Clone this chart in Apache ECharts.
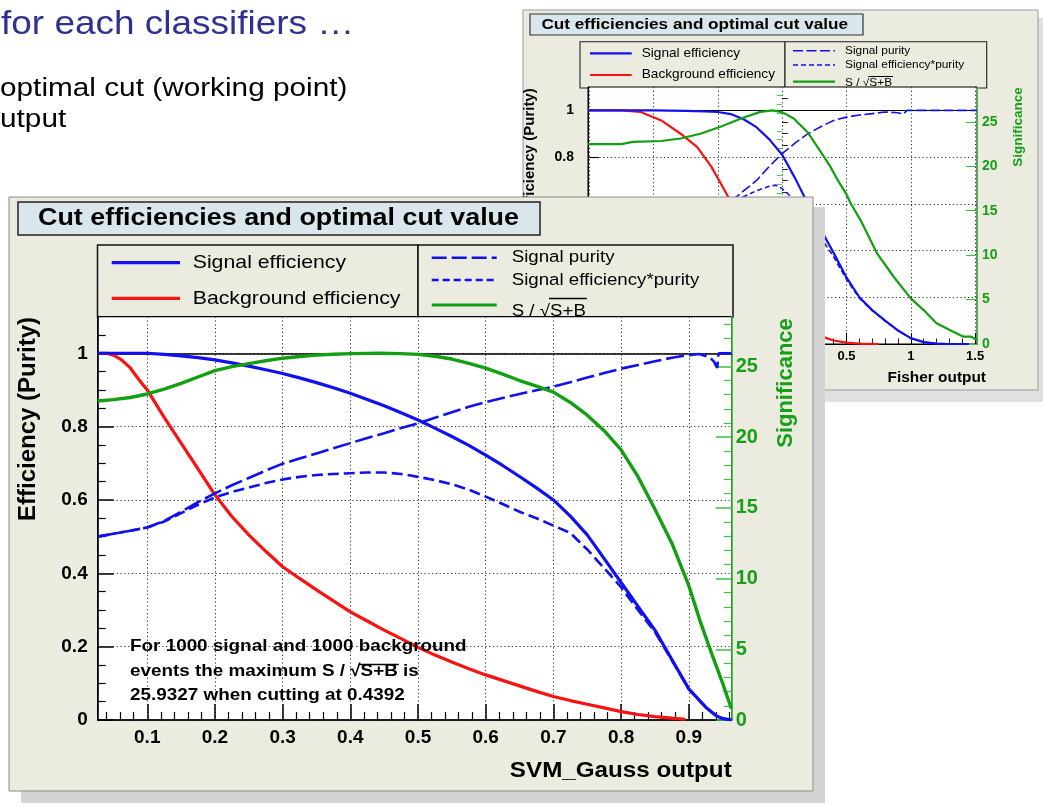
<!DOCTYPE html>
<html><head><meta charset="utf-8">
<script src="https://cdn.jsdelivr.net/npm/echarts@6.0.0/dist/echarts.min.js"></script>
<style>html,body{margin:0;padding:0;background:#fff;}#c{width:1043px;height:807px;}</style>
</head><body><div id="c"></div>
<script>
const FONT = '"Liberation Sans", Arial, Helvetica, sans-serif';
const COL = {blue:'#1010f0', red:'#f81212', green:'#12a012', greenAxis:'#3cc23c', greenText:'#16a016',
  panel:'#ecebe0', titleBox:'#d9e7ec', slide:'#2e3192'};

// ---------------- SVM_Gauss (front chart) ----------------
const svmXRange = [0.0268, 0.9634];
const svmXMajor = [0.1,0.2,0.3,0.4,0.5,0.6,0.7,0.8,0.9];
const svmXMinor = [0.04,0.06,0.08,0.12,0.14,0.16,0.18,0.22,0.24,0.26,0.28,0.32,0.34,0.36,0.38,0.42,0.44,0.46,0.48,
  0.52,0.54,0.56,0.58,0.62,0.64,0.66,0.68,0.72,0.74,0.76,0.78,0.82,0.84,0.86,0.88,0.92,0.94,0.96];
const effMajor = [0,0.2,0.4,0.6,0.8,1];
const effMinor = [0.05,0.1,0.15,0.25,0.3,0.35,0.45,0.5,0.55,0.65,0.7,0.75,0.85,0.9,0.95,1.05];
const sigMajor = [0,5,10,15,20,25];
const sigMinor = [1,2,3,4,6,7,8,9,11,12,13,14,16,17,18,19,21,22,23,24,26,27,28];
const svmSigMax = 28.52;

const svmSigEff = [[0.027,1.0],[0.05,1.0],[0.075,1.0],[0.1,1.0],[0.125,0.997],[0.15,0.993],[0.175,0.988],[0.2,0.982],
  [0.225,0.974],[0.25,0.965],[0.275,0.955],[0.3,0.945],[0.325,0.933],[0.35,0.92],[0.375,0.906],[0.4,0.891],[0.425,0.874],
  [0.45,0.857],[0.475,0.838],[0.5,0.818],[0.525,0.796],[0.55,0.773],[0.575,0.749],[0.6,0.722],[0.625,0.694],[0.65,0.664],
  [0.675,0.633],[0.7,0.6],[0.725,0.556],[0.75,0.505],[0.775,0.44],[0.8,0.375],[0.825,0.31],[0.85,0.245],[0.875,0.165],
  [0.9,0.085],[0.925,0.035],[0.94,0.012],[0.95,0.004],[0.963,0.0]];
const svmBkgEff = [[0.027,1.0],[0.04,1.0],[0.05,0.995],[0.062,0.982],[0.075,0.96],[0.087,0.93],[0.1,0.9],[0.125,0.825],
  [0.15,0.755],[0.175,0.685],[0.2,0.614],[0.225,0.555],[0.25,0.505],[0.275,0.46],[0.3,0.418],[0.325,0.386],[0.35,0.355],
  [0.375,0.325],[0.4,0.295],[0.425,0.27],[0.45,0.245],[0.475,0.222],[0.5,0.198],[0.525,0.177],[0.55,0.158],[0.575,0.14],
  [0.6,0.123],[0.625,0.108],[0.65,0.093],[0.675,0.078],[0.7,0.064],[0.725,0.053],[0.75,0.043],[0.775,0.033],[0.8,0.023],
  [0.825,0.015],[0.85,0.009],[0.875,0.005],[0.895,0.002]];
const svmPurity = [[0.027,0.5],[0.05,0.508],[0.075,0.516],[0.1,0.525],[0.125,0.543],[0.15,0.568],[0.175,0.594],[0.2,0.618],
  [0.225,0.64],[0.25,0.66],[0.275,0.68],[0.3,0.699],[0.325,0.713],[0.35,0.727],[0.375,0.741],[0.4,0.755],[0.425,0.769],
  [0.45,0.782],[0.475,0.796],[0.5,0.809],[0.525,0.824],[0.55,0.839],[0.575,0.854],[0.6,0.867],[0.625,0.878],[0.65,0.889],
  [0.675,0.899],[0.7,0.909],[0.725,0.921],[0.75,0.934],[0.775,0.946],[0.8,0.958],[0.825,0.968],[0.85,0.978],[0.875,0.988],
  [0.9,0.995],[0.915,0.998],[0.93,0.99],[0.937,0.978],[0.942,0.96],[0.944,1.0],[0.963,1.0]];
const svmEffPurity = [[0.027,0.5],[0.05,0.508],[0.075,0.516],[0.1,0.525],[0.125,0.541],[0.15,0.564],[0.175,0.587],[0.2,0.607],
  [0.225,0.622],[0.25,0.634],[0.275,0.646],[0.3,0.656],[0.325,0.663],[0.35,0.668],[0.375,0.671],[0.4,0.673],[0.425,0.675],
  [0.45,0.675],[0.475,0.671],[0.5,0.663],[0.525,0.654],[0.55,0.643],[0.575,0.628],[0.6,0.609],[0.625,0.589],[0.65,0.568],
  [0.675,0.55],[0.7,0.53],[0.725,0.51],[0.75,0.465],[0.775,0.414],[0.8,0.362],[0.825,0.3],[0.85,0.24],[0.875,0.163],
  [0.9,0.084],[0.925,0.035],[0.94,0.012],[0.95,0.004],[0.963,0.0]];
const svmSignif = [[0.027,22.55],[0.05,22.65],[0.075,22.8],[0.1,23.05],[0.125,23.4],[0.15,23.8],[0.175,24.25],[0.2,24.7],
  [0.225,24.98],[0.25,25.2],[0.275,25.4],[0.3,25.58],[0.325,25.7],[0.35,25.8],[0.375,25.86],[0.4,25.9],[0.425,25.92],
  [0.44,25.93],[0.475,25.9],[0.5,25.85],[0.525,25.72],[0.55,25.52],[0.575,25.22],[0.6,24.88],[0.625,24.45],[0.65,24.0],
  [0.675,23.6],[0.7,23.18],[0.725,22.45],[0.75,21.55],[0.775,20.45],[0.8,19.1],[0.825,17.2],[0.85,14.9],[0.875,12.5],
  [0.9,9.5],[0.916,7.1],[0.93,5.2],[0.94,3.9],[0.95,2.6],[0.963,0.8]];

// ---------------- Fisher (back chart) ----------------
const fisherXRange = [-1.51, 1.515];
const fisherXMajor = [-1.5,-1,-0.5,0,0.5,1,1.5];
const fisherXMinor = [-1.4,-1.3,-1.2,-1.1,-0.9,-0.8,-0.7,-0.6,-0.4,-0.3,-0.2,-0.1,0.1,0.2,0.3,0.4,0.6,0.7,0.8,0.9,1.1,1.2,1.3,1.4];
const fisherSigMax = 28.93;

const fisherSigEff = [[-1.51,1.0],[-1.0,1.0],[-0.75,0.998],[-0.6,0.996],[-0.5,0.993],[-0.4,0.984],[-0.3,0.962],[-0.2,0.928],
  [-0.1,0.876],[0.0,0.81],[0.1,0.71],[0.2,0.6],[0.3,0.49],[0.4,0.39],[0.5,0.285],[0.6,0.2],[0.7,0.145],[0.8,0.1],
  [0.9,0.058],[1.0,0.025],[1.1,0.008],[1.2,0.002],[1.3,0.0],[1.45,0.0]];
const fisherBkgEff = [[-1.51,1.0],[-1.25,1.0],[-1.1,0.993],[-0.94,0.957],[-0.79,0.9],[-0.66,0.843],[-0.55,0.758],[-0.45,0.66],
  [-0.4,0.61],[-0.3,0.505],[-0.2,0.4],[-0.1,0.3],[0.0,0.21],[0.1,0.135],[0.2,0.078],[0.3,0.036],[0.35,0.024],[0.4,0.015],
  [0.5,0.006],[0.6,0.002],[0.75,0.0]];
const fisherPurity = [[-1.51,0.5],[-1.25,0.5],[-1.0,0.505],[-0.8,0.525],[-0.6,0.555],[-0.5,0.58],[-0.4,0.61],[-0.3,0.655],
  [-0.2,0.7],[-0.1,0.76],[0.0,0.815],[0.1,0.86],[0.2,0.9],[0.3,0.93],[0.4,0.957],[0.5,0.971],[0.6,0.98],[0.7,0.986],
  [0.8,0.993],[0.9,0.99],[0.944,0.984],[0.97,1.0],[1.515,1.0]];
const fisherEffPurity = [[-1.51,0.5],[-1.25,0.5],[-1.0,0.505],[-0.8,0.524],[-0.6,0.553],[-0.5,0.576],[-0.4,0.6],[-0.3,0.63],
  [-0.2,0.656],[-0.1,0.675],[-0.05,0.68],[0.0,0.665],[0.05,0.64],[0.1,0.612],[0.2,0.54],[0.3,0.455],[0.4,0.373],[0.5,0.277],
  [0.6,0.196],[0.7,0.143],[0.8,0.099],[0.9,0.057],[1.0,0.025],[1.1,0.008],[1.2,0.002],[1.3,0.0],[1.45,0.0]];
const fisherSignif = [[-1.51,22.5],[-1.25,22.5],[-1.16,22.75],[-0.94,22.85],[-0.79,23.13],[-0.63,23.7],[-0.48,24.45],
  [-0.32,25.38],[-0.17,26.13],[-0.076,26.3],[0.0,26.1],[0.09,25.38],[0.2,23.8],[0.3,21.63],[0.376,19.94],[0.43,18.5],
  [0.5,16.85],[0.53,15.9],[0.609,13.95],[0.738,10.2],[0.867,7.57],[1.0,5.14],[1.1,3.82],[1.2,2.33],[1.33,1.38],
  [1.41,0.82],[1.47,0.82],[1.515,0.45]];

// ---------------- texts ----------------
const slideTitle = 'for each classifiers \u2026';
const slideLines = ['optimal cut (working point)', 'utput'];
const plotTitle = 'Cut efficiencies and optimal cut value';
const legendLeft = ['Signal efficiency', 'Background efficiency'];
const legendRight = ['Signal purity', 'Signal efficiency*purity', 'S / \u221AS+B'];
const effTitle = 'Efficiency (Purity)';
const sigTitle = 'Significance';
const svmXTitle = 'SVM_Gauss output';
const fisherXTitle = 'Fisher output';
const noteLines = ['For 1000 signal and 1000 background', 'events the maximum S / \u221AS+B is', '25.9327 when cutting at 0.4392'];

// ---------------- helpers ----------------
const mctx = document.createElement('canvas').getContext('2d');
function tw(str, fs, bold) { mctx.font = (bold ? 'bold ' : '') + fs + 'px ' + FONT; return mctx.measureText(str).width; }

function buildAxes(g, xr, sMax, st, z) {
  const base = {gridIndex: g, type: 'value', z: z, silent: true};
  const dot = [1.2, 2.6];
  const xa = [
    Object.assign({}, base, {min: xr[0], max: xr[1], position: 'bottom', splitNumber: st.xSplit,
      axisLine: {show: true, onZero: false, lineStyle: {color: '#000', width: st.aw}},
      axisTick: {show: true, inside: true, length: st.tMaj, customValues: st.xMaj, lineStyle: {color: '#000', width: st.aw}},
      axisLabel: {show: true, customValues: st.xMaj, margin: st.xM, color: '#000', fontSize: st.xFs, fontWeight: 'bold', fontFamily: FONT},
      splitLine: {show: true, lineStyle: {color: '#333', width: 1, type: dot}}}),
    Object.assign({}, base, {min: xr[0], max: xr[1], position: 'bottom',
      axisLine: {show: false}, axisTick: {show: true, inside: true, length: st.tMin, customValues: st.xMin, lineStyle: {color: '#000', width: st.aw * 0.8}},
      axisLabel: {show: false}, splitLine: {show: false}})
  ];
  const ya = [
    Object.assign({}, base, {min: 0, max: 1.1, position: 'left', splitNumber: 6,
      axisLine: {show: true, onZero: false, lineStyle: {color: '#000', width: st.aw}},
      axisTick: {show: true, inside: true, length: st.tMaj, customValues: effMajor, lineStyle: {color: '#000', width: st.aw}},
      axisLabel: {show: true, customValues: effMajor, margin: st.yM, color: '#000', fontSize: st.yFs, fontWeight: 'bold', fontFamily: FONT},
      splitLine: {show: true, lineStyle: {color: '#333', width: 1, type: dot}}}),
    Object.assign({}, base, {min: 0, max: 1.1, position: 'left',
      axisLine: {show: false}, axisTick: {show: true, inside: true, length: st.tMin, customValues: effMinor, lineStyle: {color: '#000', width: st.aw * 0.8}},
      axisLabel: {show: false}, splitLine: {show: false}}),
    Object.assign({}, base, {min: 0, max: sMax, position: 'right', splitNumber: 6,
      axisLine: {show: true, onZero: false, lineStyle: {color: COL.greenAxis, width: st.aw}},
      axisTick: {show: true, inside: true, length: st.tMaj, customValues: sigMajor, lineStyle: {color: COL.greenAxis, width: st.aw}},
      axisLabel: {show: true, customValues: sigMajor, margin: st.sM, color: COL.greenText, fontSize: st.sFs, fontWeight: 'bold', fontFamily: FONT},
      splitLine: {show: false}}),
    Object.assign({}, base, {min: 0, max: sMax, position: 'right',
      axisLine: {show: false}, axisTick: {show: true, inside: true, length: st.tMin, customValues: sigMinor, lineStyle: {color: COL.greenAxis, width: st.aw * 0.8}},
      axisLabel: {show: false}, splitLine: {show: false}})
  ];
  return {xa, ya};
}

const series = [];
function addLine(name, data, xi, yi, color, width, dash, z, extra) {
  series.push(Object.assign({type: 'line', name, data, xAxisIndex: xi, yAxisIndex: yi, symbol: 'none', showSymbol: false,
    lineStyle: {color, width, type: dash || 'solid'}, itemStyle: {color}, z, silent: true, animation: false, clip: true}, extra || {}));
}
function oneLine(z, w) {
  return {markLine: {silent: true, symbol: ['none', 'none'], z: z, label: {show: false}, animation: false,
    lineStyle: {color: '#000', width: w, type: 'solid'}, emphasis: {disabled: true}, data: [{yAxis: 1}]}};
}

const G = [];
function rect(x, y, w, h, fill, stroke, lw, z) {
  G.push({type: 'rect', silent: true, z, shape: {x, y, width: w, height: h}, style: {fill, stroke: stroke || null, lineWidth: lw || 0}});
}
function seg(x1, y1, x2, y2, color, lw, dash, z) {
  G.push({type: 'line', silent: true, z, shape: {x1, y1, x2, y2}, style: {stroke: color, lineWidth: lw, lineDash: dash || null}});
}
function text(str, x, y, fs, o) {
  o = o || {};
  G.push({type: 'text', silent: true, z: o.z, x, y, rotation: o.rot || 0, scaleX: o.sx || 1,
    style: {text: str, x: 0, y: 0, fill: o.color || '#000', fontSize: fs, fontWeight: o.bold ? 'bold' : 'normal', fontFamily: FONT,
      textAlign: o.align || 'left', textVerticalAlign: 'middle', align: o.align || 'left', verticalAlign: 'middle'}});
}
// overline above the part after the root sign
function rootBar(prefix, upto, x0, yLine, fs, bold, sx, color, lw, z) {
  const a = x0 + tw(prefix, fs, bold) * sx;
  const b = x0 + tw(upto, fs, bold) * sx;
  seg(a - 1, yLine, b + 1, yLine, color, lw, null, z);
}

// ================= back chart (Fisher) =================
const SX = 1.12;
rect(531, 18, 512, 384, '#e0e0e0', null, 0, 0);
rect(523, 10, 515, 380, COL.panel, '#999', 1, 0.5);
rect(530, 14, 333, 21, COL.titleBox, '#333', 1.2, 1);
text(plotTitle, 541.5, 24.5, 15.3, {bold: true, sx: SX, z: 1.5});
rect(580, 41.7, 205, 46.3, COL.panel, '#222', 1.1, 1);
rect(785, 41.7, 201.7, 46.3, COL.panel, '#222', 1.1, 1);
seg(590, 53.3, 631.7, 53.3, COL.blue, 2.2, null, 2);
seg(590, 75, 631.7, 75, COL.red, 2.2, null, 2);
text(legendLeft[0], 641.7, 53.3, 12.2, {sx: SX, z: 2});
text(legendLeft[1], 641.7, 75, 12.2, {sx: SX, z: 2});
seg(793, 50.7, 835, 50.7, COL.blue, 1.6, [10, 3.5], 2);
seg(793, 65, 835, 65, COL.blue, 1.6, [5, 3], 2);
seg(793, 81.7, 835, 81.7, COL.green, 2.2, null, 2);
text(legendRight[0], 845, 50.7, 10.6, {sx: SX, z: 2});
text(legendRight[1], 845, 65, 10.6, {sx: SX, z: 2});
text(legendRight[2], 845, 83.5, 10.6, {sx: SX, z: 2});
rootBar('S / \u221A', legendRight[2], 845, 76.5, 10.6, false, SX, '#000', 1, 2);
text(effTitle, 530, 152, 15, {bold: true, rot: Math.PI / 2, align: 'center', z: 5.5});
text(sigTitle, 1018, 127, 13.5, {bold: true, rot: Math.PI / 2, align: 'center', color: COL.greenText, z: 5.5});
text(fisherXTitle, 986, 378.5, 14, {bold: true, align: 'right', sx: 1.1, z: 5.5});

// ================= front chart (SVM_Gauss) =================
rect(21, 207, 804, 596, '#d4d4d4', null, 0, 10);
rect(9, 197, 804, 594, COL.panel, '#8a8a8a', 1, 10.5);
rect(18, 202, 522, 33, COL.titleBox, '#222', 1.5, 11);
text(plotTitle, 38, 218.5, 24, {bold: true, sx: SX, z: 11.5});
rect(97.5, 245, 320.5, 72, COL.panel, '#111', 1.5, 11);
rect(418, 245, 315, 72, COL.panel, '#111', 1.5, 11);
seg(111.7, 262.7, 180, 262.7, COL.blue, 3.2, null, 12);
seg(111.7, 298.3, 180, 298.3, COL.red, 3.2, null, 12);
text(legendLeft[0], 192.7, 262.7, 19, {sx: SX, z: 12});
text(legendLeft[1], 192.7, 298.3, 19, {sx: SX, z: 12});
seg(431.7, 257.7, 496.7, 257.7, COL.blue, 2.6, [15, 5], 12);
seg(431.7, 280, 496.7, 280, COL.blue, 2.6, [7, 4], 12);
seg(431.7, 305, 496.7, 305, COL.green, 3.2, null, 12);
text(legendRight[0], 511.7, 257.7, 16.7, {sx: SX, z: 12});
text(legendRight[1], 511.7, 280, 16.7, {sx: SX, z: 12});
text(legendRight[2], 511.7, 311, 16.7, {sx: SX, z: 12});
rootBar('S / \u221A', legendRight[2], 511.7, 298.5, 16.7, false, SX, '#000', 1.3, 12);
text(noteLines[0], 130, 646.7, 17, {bold: true, sx: 1.11, z: 16});
text(noteLines[1], 130, 671.7, 17, {bold: true, sx: 1.11, z: 16});
text(noteLines[2], 130, 695.5, 17, {bold: true, sx: 1.11, z: 16});
rootBar('events the maximum S / \u221A', 'events the maximum S / \u221AS+B', 130, 664.5, 17, true, 1.11, '#000', 1.5, 16);
text(effTitle, 28.5, 419, 24, {bold: true, rot: Math.PI / 2, align: 'center', z: 16});
text(sigTitle, 786, 383, 22, {bold: true, rot: Math.PI / 2, align: 'center', color: COL.greenText, z: 16});
text(svmXTitle, 731.7, 771, 22, {bold: true, align: 'right', sx: 1.1, z: 16});

// slide text
text(slideTitle, 1, 24.5, 33, {color: COL.slide, sx: SX, z: 1});
text(slideLines[0], 0, 89, 26, {sx: 1.145, z: 1});
text(slideLines[1], 0, 120, 26, {sx: 1.145, z: 1});

// ================= axes & series =================
const frontSt = {xSplit: 10, aw: 1.5, tMaj: 16, tMin: 8, xMaj: svmXMajor, xMin: svmXMinor, xM: 8, xFs: 19, yM: 10, yFs: 19, sM: 4, sFs: 20};
const backSt = {xSplit: 6, aw: 1.1, tMaj: 11, tMin: 5.5, xMaj: fisherXMajor, xMin: fisherXMinor, xM: 6, xFs: 13, yM: 14, yFs: 14, sM: 5, sFs: 14};
const fa = buildAxes(0, svmXRange, svmSigMax, frontSt, 14);
const ba = buildAxes(1, fisherXRange, fisherSigMax, backSt, 4);

// front: xAxis 0,1  yAxis 0..3 ; back: xAxis 2,3  yAxis 4..7
addLine('Background efficiency', svmBkgEff, 0, 0, COL.red, 3.2, null, 15, oneLine(15, 1.5));
addLine('Signal efficiency', svmSigEff, 0, 0, COL.blue, 3.2, null, 15);
addLine('Signal purity', svmPurity, 0, 0, COL.blue, 2.6, [18, 5], 15);
addLine('Signal efficiency*purity', svmEffPurity, 0, 0, COL.blue, 2.6, [11, 5], 15);
addLine('S/sqrt(S+B)', svmSignif, 0, 2, COL.green, 3.4, null, 15);

addLine('Background efficiency (Fisher)', fisherBkgEff, 2, 4, COL.red, 2.2, null, 5, oneLine(5, 1));
addLine('Signal efficiency (Fisher)', fisherSigEff, 2, 4, COL.blue, 2.2, null, 5);
addLine('Signal purity (Fisher)', fisherPurity, 2, 4, COL.blue, 1.6, [10, 3.5], 5);
addLine('Signal efficiency*purity (Fisher)', fisherEffPurity, 2, 4, COL.blue, 1.6, [5, 3], 5);
addLine('S/sqrt(S+B) (Fisher)', fisherSignif, 2, 6, COL.green, 2.2, null, 5);

const option = {
  animation: false,
  backgroundColor: '#ffffff',
  grid: [
    {left: 97.7, top: 316.6, width: 634, height: 403.4, show: true, backgroundColor: '#fff', borderColor: '#000', borderWidth: 1.2, z: 13, outerBoundsMode: 'none', containLabel: false},
    {left: 588, top: 87, width: 389, height: 257, show: true, backgroundColor: '#fff', borderColor: '#000', borderWidth: 1, z: 3, outerBoundsMode: 'none', containLabel: false}
  ],
  xAxis: fa.xa.concat(ba.xa),
  yAxis: fa.ya.concat(ba.ya),
  series: series,
  graphic: {elements: G}
};
const chart = echarts.init(document.getElementById('c'), null, {renderer: 'canvas'});
chart.setOption(option);
</script></body></html>
